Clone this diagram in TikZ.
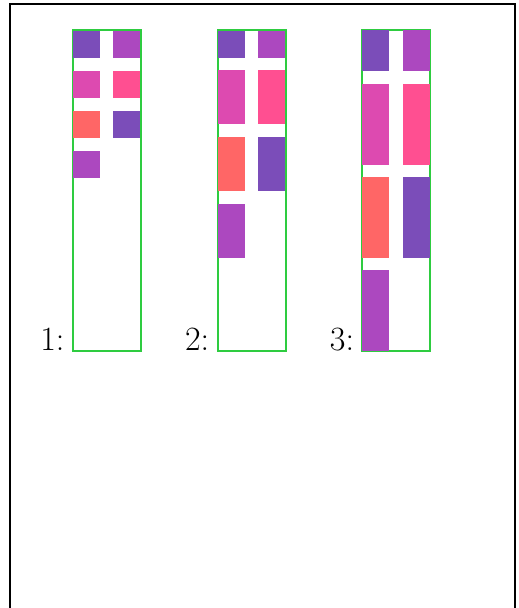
\documentclass[tikz,border=0pt]{standalone}
\usepackage{fontspec}
\definecolor{cpurple}{HTML}{7B4DB9}
\definecolor{corchid}{HTML}{AC48BF}
\definecolor{cmagenta}{HTML}{DD4AB0}
\definecolor{cpink}{HTML}{FF4F91}
\definecolor{ccoral}{HTML}{FF6666}
\definecolor{cgreen}{HTML}{2ECC40}
\tikzset{
  frameline/.style={draw=black, line width=2.2pt},
  container/.style={draw=cgreen, line width=2pt},
  lbl/.style={anchor=base east, inner sep=0pt, font=\fontsize{34}{40}\selectfont},
}
\begin{document}
\begin{tikzpicture}[x=1pt,y=-1pt]
\useasboundingbox (0,0) rectangle (519,608);
\clip (0,0) rectangle (519,608);
\fill[white] (0,0) rectangle (519,608);
\draw[frameline] (9.7,640) -- (9.7,3.8) -- (514.7,3.8) -- (514.7,640);
% panel 1
\draw[container] (73,30) rectangle (141,350.5);
\fill[cpurple]  (73,31) rectangle (100,58);
\fill[corchid]  (113,31) rectangle (140,58);
\fill[cmagenta] (73,71) rectangle (100,98);
\fill[cpink]    (113,71) rectangle (140,98);
\fill[ccoral]   (73,111) rectangle (100,138);
\fill[cpurple]  (113,111) rectangle (140,138);
\fill[corchid]  (73,151) rectangle (100,178);
\node[lbl] (l1) at (64.6,350.5) {1:};
% panel 2
\draw[container] (218,30) rectangle (286,350.5);
\fill[cpurple]  (218,31) rectangle (245,58);
\fill[corchid]  (258,31) rectangle (285,58);
\fill[cmagenta] (218,70) rectangle (245,124);
\fill[cpink]    (258,70) rectangle (285,124);
\fill[ccoral]   (218,137) rectangle (245,191);
\fill[cpurple]  (258,137) rectangle (285,191);
\fill[corchid]  (218,204) rectangle (245,258);
\node[lbl] (l2) at (209.4,350.5) {2:};
% panel 3
\draw[container] (362,30) rectangle (430,350.5);
\fill[cpurple]  (362,30) rectangle (389,71);
\fill[corchid]  (403,30) rectangle (430,71);
\fill[cmagenta] (362,84) rectangle (389,165);
\fill[cpink]    (403,84) rectangle (430,165);
\fill[ccoral]   (362,177) rectangle (389,258);
\fill[cpurple]  (403,177) rectangle (430,258);
\fill[corchid]  (362,270) rectangle (389,351);
\node[lbl] (l3) at (354.3,350.5) {3:};
\end{tikzpicture}
\end{document}
